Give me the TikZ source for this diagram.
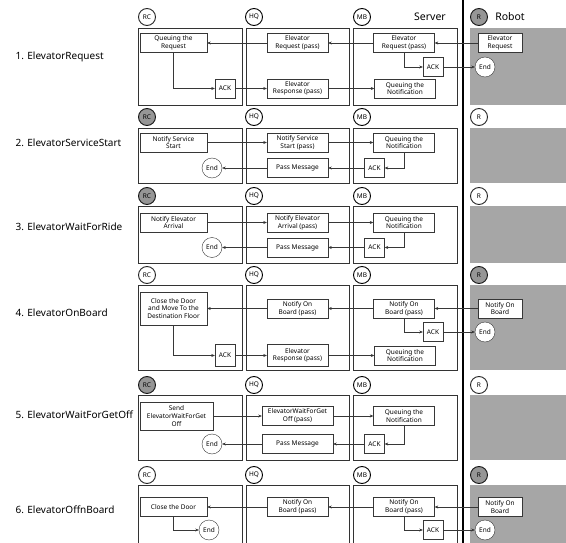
\documentclass[tikz,border=0pt]{standalone}
\usepackage{fontspec}
\setmainfont{Noto Sans}
\usetikzlibrary{arrows.meta, calc}
\definecolor{elvgray}{RGB}{166,166,166}
\definecolor{elvtag}{RGB}{150,150,150}
\definecolor{elvline}{RGB}{55,55,55}

\begin{document}
\begin{tikzpicture}[x=1pt, y=-1pt,
    box/.style={draw=elvline, fill=white, align=center, inner sep=1pt,
      minimum width=61, minimum height=19, font=\fontsize{6.5}{7.6}\selectfont},
    ack/.style={box, minimum width=20},
    endc/.style={circle, draw=elvline, fill=white, minimum size=20, inner sep=0pt,
      font=\fontsize{6.5}{7}\selectfont},
    badge/.style={circle, draw=black, fill=white, minimum size=17, inner sep=0pt,
      line width=0.9pt, font=\bfseries\fontsize{6.5}{7}\selectfont},
    flow/.style={-{Stealth[length=3.5pt, width=3pt]}, elvline, thin},
    panel/.style={draw=black!80}]
  \useasboundingbox (0,0) rectangle (566,543);
  \clip (0,0) rectangle (566,543);

  % cadres des lignes
  \foreach \t/\b in {28/105,128/183,206/263,285/370,395/460,485/570} {
    \draw[panel] (138,\t) rectangle (242,\b);
    \draw[panel] (246,\t) rectangle (349,\b);
    \draw[panel] (353,\t) rectangle (457,\b);
    \fill[elvgray] (470,\t) rectangle (570,\b);
  }
  \draw[line width=1.6pt] (463,0) -- (463,543);

  % en-tetes
  \node[font=\fontsize{10.5}{12}\selectfont] (server) at (430,17) {Server};
  \node[font=\fontsize{10.5}{12}\selectfont] (robot) at (510,17) {Robot};
  \foreach \y/\ca/\cb [count=\i] in {17/white/elvtag, 117/elvtag/white, 196/elvtag/white,
      275/white/elvtag, 385/elvtag/white, 475/white/elvtag} {
    \node[badge, fill=\ca, draw=\ca!15!black] (brc\i) at (147,\y) {RC};
    \node[badge] (bhq\i) at (254,\y) {HQ};
    \node[badge] (bmb\i) at (362,\y) {MB};
    \node[badge, fill=\cb, draw=\cb!15!black] (br\i) at (479,\y) {R};
  }
  \foreach \y/\txt [count=\i] in {57/1. ElevatorRequest, 143/2. ElevatorServiceStart,
      227/3. ElevatorWaitForRide, 313/4. ElevatorOnBoard,
      415/5. ElevatorWaitForGetOff, 510/6. ElevatorOffnBoard}
    \node[anchor=west, font=\fontsize{10}{12}\selectfont] (lab\i) at (12,\y) {\txt};

  % 1. request
  \node[box, minimum width=67] (rc1a) at (173.5,43) {Queuing the\\Request};
  \node[box] (hq1a) at (297.5,43) {Elevator\\Request (pass)};
  \node[box] (mb1a) at (404,43) {Elevator\\Request (pass)};
  \node[box, minimum width=44] (rb1a) at (500,43) {Elevator\\Request};
  \node[ack] (rc1k) at (225,88.5) {ACK};
  \node[box] (hq1b) at (297.5,88.5) {Elevator\\Response (pass)};
  \node[ack] (mb1k) at (433,67) {ACK};
  \node[box] (mb1b) at (405,88.5) {Queuing the\\Notification};
  \node[endc] (rb1e) at (485,67) {End};
  \draw[flow] (rb1a) -- (mb1a);
  \draw[flow] (mb1a) -- (hq1a);
  \draw[flow] (hq1a) -- (rc1a);
  \draw[flow] (rc1a.south) |- (rc1k);
  \draw[flow] (rc1k) -- (hq1b);
  \draw[flow] (hq1b) -- (mb1b);
  \draw[flow] (mb1a.south) |- (mb1k);
  \draw[flow] (mb1k) -- (rb1e);

  % 2. service start
  \node[box, minimum width=67] (rc2a) at (173.5,142.5) {Notify Service\\Start};
  \node[box] (hq2a) at (297.5,142.5) {Notify Service\\Start (pass)};
  \node[box] (mb2a) at (404,142.5) {Queuing the\\Notification};
  \node[box] (hq2b) at (297.5,168) {Pass Message};
  \node[ack] (mb2k) at (374.5,168) {ACK};
  \node[endc] (rc2e) at (212,168) {End};
  \draw[flow] (rc2a) -- (hq2a);
  \draw[flow] (hq2a) -- (mb2a);
  \draw[flow] (mb2a.south) |- (mb2k);
  \draw[flow] (mb2k) -- (hq2b);
  \draw[flow] (hq2b) -- (rc2e);

  % 3. wait for ride
  \node[box, minimum width=67] (rc3a) at (173.5,222.5) {Notify Elevator\\Arrival};
  \node[box] (hq3a) at (297.5,222.5) {Notify Elevator\\Arrival (pass)};
  \node[box] (mb3a) at (404,222.5) {Queuing the\\Notification};
  \node[box] (hq3b) at (297.5,247.5) {Pass Message};
  \node[ack] (mb3k) at (374.5,247.5) {ACK};
  \node[endc] (rc3e) at (212,247.5) {End};
  \draw[flow] (rc3a) -- (hq3a);
  \draw[flow] (hq3a) -- (mb3a);
  \draw[flow] (mb3a.south) |- (mb3k);
  \draw[flow] (mb3k) -- (hq3b);
  \draw[flow] (hq3b) -- (rc3e);

  % 4. on board
  \node[box, minimum width=67, minimum height=33] (rc4a) at (173.5,308.5) {Close the Door\\and Move To the\\Destination Floor};
  \node[box] (hq4a) at (297.5,308.5) {Notify On\\Board (pass)};
  \node[box] (mb4a) at (404,308.5) {Notify On\\Board (pass)};
  \node[box, minimum width=44] (rb4a) at (500,308.5) {Notify On\\Board};
  \node[ack, minimum height=22] (rc4k) at (225,355.5) {ACK};
  \node[box, minimum height=22] (hq4b) at (297.5,355.5) {Elevator\\Response (pass)};
  \node[ack] (mb4k) at (433,332) {ACK};
  \node[box] (mb4b) at (405,355.5) {Queuing the\\Notification};
  \node[endc] (rb4e) at (485,332) {End};
  \draw[flow] (rb4a) -- (mb4a);
  \draw[flow] (mb4a) -- (hq4a);
  \draw[flow] (hq4a) -- (rc4a);
  \draw[flow] (rc4a.south) |- (rc4k);
  \draw[flow] (rc4k) -- (hq4b);
  \draw[flow] (hq4b) -- (mb4b);
  \draw[flow] (mb4a.south) |- (mb4k);
  \draw[flow] (mb4k) -- (rb4e);

  % 5. wait for get off
  \node[box, minimum width=73, minimum height=28] (rc5a) at (176.5,416) {Send\\ElevatorWaitForGet\\Off};
  \node[box, minimum width=71] (hq5a) at (297.5,416) {ElevatorWaitForGet\\Off (pass)};
  \node[box] (mb5a) at (404,416) {Queuing the\\Notification};
  \node[box, minimum width=71] (hq5b) at (297.5,444) {Pass Message};
  \node[ack] (mb5k) at (374.5,444) {ACK};
  \node[endc] (rc5e) at (212,444) {End};
  \draw[flow] (rc5a) -- (hq5a);
  \draw[flow] (hq5a) -- (mb5a);
  \draw[flow] (mb5a.south) |- (mb5k);
  \draw[flow] (mb5k) -- (hq5b);
  \draw[flow] (hq5b) -- (rc5e);

  % 6. off board
  \node[box, minimum width=67] (rc6a) at (173.5,507) {Close the Door};
  \node[endc] (rc6e) at (209,530) {End};
  \node[box] (hq6a) at (297.5,507) {Notify On\\Board (pass)};
  \node[box] (mb6a) at (404,507) {Notify On\\Board (pass)};
  \node[box, minimum width=44] (rb6a) at (500,507) {Notify On\\Board};
  \node[ack] (mb6k) at (433,530) {ACK};
  \node[endc] (rb6e) at (485,530) {End};
  \draw[flow] (rb6a) -- (mb6a);
  \draw[flow] (mb6a) -- (hq6a);
  \draw[flow] (hq6a) -- (rc6a);
  \draw[flow] (rc6a.south) |- (rc6e);
  \draw[flow] (mb6a.south) |- (mb6k);
  \draw[flow] (mb6k) -- (rb6e);
\end{tikzpicture}
\end{document}
